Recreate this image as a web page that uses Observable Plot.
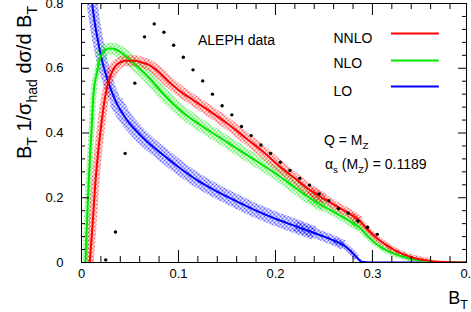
<!DOCTYPE html>
<html><head><meta charset="utf-8">
<script src="https://cdn.jsdelivr.net/npm/d3@7"></script>
<script src="https://cdn.jsdelivr.net/npm/@observablehq/plot@0.6"></script>
<style>body{margin:0;background:#fff} svg{display:block}</style>
</head><body><div id="chart"></div>
<script>
// ---- data ----
const alephX = [0.025,0.035,0.045,0.055,0.065,0.075,0.085,0.095,0.105,0.115,0.125,0.135,0.145,0.155,0.165,0.175,0.185,0.195,0.205,0.215,0.225,0.235,0.245,0.255,0.265,0.275,0.285,0.295,0.305];
const alephY = [0.008,0.094,0.337,0.554,0.697,0.737,0.711,0.671,0.634,0.595,0.561,0.520,0.484,0.456,0.420,0.392,0.363,0.337,0.310,0.284,0.260,0.239,0.212,0.191,0.167,0.153,0.128,0.109,0.087];

const loX = [0.0095,0.0107,0.013,0.016,0.021,0.028,0.035,0.045,0.057,0.066,0.083,0.10,0.12,0.14,0.16,0.18,0.20,0.22,0.24,0.26,0.27,0.277,0.284,0.289,0.30,0.40];
const loY = [0.86,0.81,0.755,0.70,0.626,0.554,0.50,0.448,0.405,0.378,0.335,0.295,0.253,0.219,0.189,0.16,0.135,0.113,0.091,0.068,0.054,0.037,0.015,0.002,0,0];

const nloX = [0.0040,0.0055,0.0072,0.009,0.0107,0.0124,0.0158,0.0192,0.023,0.027,0.031,0.036,0.0416,0.0553,0.069,0.083,0.10,0.115,0.13,0.15,0.17,0.19,0.205,0.22,0.235,0.25,0.265,0.278,0.287,0.295,0.305,0.315,0.329,0.343,0.36,0.38,0.40];
const nloY = [0,0.11,0.234,0.34,0.43,0.52,0.585,0.632,0.652,0.66,0.661,0.657,0.647,0.611,0.573,0.525,0.475,0.44,0.41,0.372,0.333,0.295,0.265,0.232,0.2,0.173,0.148,0.125,0.107,0.082,0.055,0.037,0.02,0.009,0.003,0.0005,0];

const nnloX = [0.0085,0.011,0.014,0.0175,0.021,0.0244,0.0296,0.0347,0.040,0.045,0.0553,0.062,0.069,0.079,0.0897,0.10,0.115,0.13,0.15,0.17,0.19,0.205,0.22,0.235,0.25,0.265,0.278,0.287,0.295,0.305,0.315,0.329,0.343,0.36,0.38,0.40];
const nnloY = [0,0.10,0.234,0.35,0.44,0.513,0.575,0.606,0.618,0.623,0.623,0.618,0.611,0.59,0.559,0.533,0.502,0.472,0.43,0.383,0.335,0.295,0.26,0.225,0.197,0.17,0.148,0.128,0.102,0.074,0.052,0.029,0.014,0.005,0.001,0];

const xMajor = [0,0.1,0.2,0.3];
const xMinor = [0.02,0.04,0.06,0.08,0.12,0.14,0.16,0.18,0.22,0.24,0.26,0.28,0.32,0.34,0.36,0.38];
const xLabels = [0,0.1,0.2,0.3,0.4];
const xLabelText = ["0","0.1","0.2","0.3","0.4"];
const yMajor = [0,0.2,0.4,0.6,0.8];
const yMinor = [0.04,0.08,0.12,0.16,0.24,0.28,0.32,0.36,0.44,0.48,0.52,0.56,0.64,0.68,0.72,0.76];
const yLabelText = ["0","0.2","0.4","0.6","0.8"];

// ---- styles ----
const RED = "#ff0000", GREEN = "#00e600", BLUE = "#0000ff";
const W = 471, H = 312, mL = 81, mR = 5, mT = 3, mB = 50;
const pw = W - mL - mR, ph = H - mT - mB;
const FONT = "'Liberation Sans', Arial, Helvetica, sans-serif";

const pts = (xs, ys) => xs.map((x, i) => ({x, y: ys[i]}));
const seg = (xs, ys, a, b) => pts(xs, ys).filter(d => d.x >= a && d.x <= b);

// band segments [from, to, strokeWidth]
const bandSpec = [
  {xs: loX, ys: loY, pat: "url(#hatchBlue)", segs: [[0.0095,0.035,11],[0.035,0.24,14],[0.22,0.27,10],[0.26,0.284,6],[0.277,0.289,3]]},
  {xs: nloX, ys: nloY, pat: "url(#hatchGreen)", segs: [[0.004,0.0192,6],[0.0192,0.25,12],[0.235,0.287,9],[0.278,0.343,6]]},
  {xs: nnloX, ys: nnloY, pat: "url(#hatchRed)", segs: [[0.0085,0.0296,8],[0.0296,0.25,11],[0.235,0.287,9],[0.278,0.36,6]]}
];
const bandMarks = [];
for (const b of bandSpec) for (const [a, c, w] of b.segs)
  bandMarks.push(Plot.line(seg(b.xs, b.ys, a, c), {x: "x", y: "y", stroke: b.pat, strokeWidth: w, curve: "monotone-x", clip: true, strokeLinecap: "butt"}));

function defsMark() {
  const defs = d3.create("svg:defs");
  for (const [id, col] of [["hatchBlue", BLUE], ["hatchGreen", GREEN], ["hatchRed", RED]]) {
    const p = defs.append("pattern").attr("id", id).attr("patternUnits", "userSpaceOnUse").attr("width", 4).attr("height", 4);
    p.append("path").attr("d", "M0,0L4,4M4,0L0,4").attr("stroke", col).attr("stroke-width", 0.6).attr("fill", "none");
  }
  return defs.node();
}

function addRich(text, parts, size) {
  let shift = 0;
  for (const [t, sub] of parts) {
    const ts = text.append("tspan").text(t);
    const target = sub ? size * 0.3 : 0;
    if (target !== shift) { ts.attr("dy", target - shift); shift = target; }
    if (sub) ts.attr("font-size", size * 0.7);
  }
}

function textMark(index, scales) {
  const g = d3.create("svg:g").attr("font-family", FONT).attr("fill", "black").attr("text-anchor", "start");
  const X = scales.x, Y = scales.y;
  // annotations in data coordinates
  const t1 = g.append("text").attr("x", X(0.1206)).attr("y", Y(0.670)).attr("font-size", 14);
  addRich(t1, [["ALEPH data"]], 14);
  const t2 = g.append("text").attr("x", X(0.2505)).attr("y", Y(0.3614)).attr("font-size", 14);
  addRich(t2, [["Q = M"], ["Z", 1]], 14);
  const t3 = g.append("text").attr("x", X(0.2515)).attr("y", Y(0.2873)).attr("font-size", 14);
  addRich(t3, [["α"], ["s", 1], [" (M"], ["Z", 1], [") = 0.1189"]], 14);
  // axis titles
  const yt = g.append("text").attr("text-anchor", "end").attr("font-size", 20)
    .attr("transform", `translate(31,6) rotate(-90)`);
  addRich(yt, [["B"], ["T", 1], [" 1/σ"], ["had", 1], [" dσ/d B"], ["T", 1]], 20);
  const xt = g.append("text").attr("text-anchor", "end").attr("font-size", 18)
    .attr("x", W - 3).attr("y", H - 8);
  addRich(xt, [["B"], ["T", 1]], 18);
  return g.node();
}

const legend = [
  {name: "NNLO", color: RED, y: 0.7073, ty: 0.6888},
  {name: "NLO", color: GREEN, y: 0.624, ty: 0.6085},
  {name: "LO", color: BLUE, y: 0.5436, ty: 0.525}
];

const plot = Plot.plot({
  width: W, height: H, marginLeft: mL, marginRight: mR, marginTop: mT, marginBottom: mB,
  x: {domain: [0, 0.397], axis: null},
  y: {domain: [0, 0.8], axis: null},
  style: {fontFamily: FONT, background: "white", color: "black"},
  marks: [
    defsMark,
    ...bandMarks,
    Plot.line(pts(loX, loY), {x: "x", y: "y", stroke: BLUE, strokeWidth: 2, curve: "monotone-x", clip: true}),
    Plot.line(pts(nloX, nloY), {x: "x", y: "y", stroke: GREEN, strokeWidth: 2, curve: "monotone-x", clip: true}),
    Plot.line(pts(nnloX, nnloY), {x: "x", y: "y", stroke: RED, strokeWidth: 2, curve: "monotone-x", clip: true}),
    Plot.dot(pts(alephX, alephY), {x: "x", y: "y", r: 1.7, fill: "black", stroke: null}),
    // legend
    Plot.ruleY(legend, {y: "y", x1: 0.3196, x2: 0.369, stroke: "color", strokeWidth: 2}),
    Plot.text(legend, {x: 0.2598, y: "ty", text: "name", textAnchor: "start", lineAnchor: "bottom", fontSize: 14, dy: 3}),
    // frame and inward ticks
    Plot.frame({stroke: "black", strokeWidth: 1}),
    Plot.tickX(xMajor, {x: d => d, insetTop: ph - 12, stroke: "black"}),
    Plot.tickX(xMinor, {x: d => d, insetTop: ph - 6, stroke: "black"}),
    Plot.tickX(xMajor, {x: d => d, insetBottom: ph - 12, stroke: "black"}),
    Plot.tickX(xMinor, {x: d => d, insetBottom: ph - 6, stroke: "black"}),
    Plot.tickY(yMajor, {y: d => d, insetRight: pw - 8, stroke: "black"}),
    Plot.tickY(yMinor, {y: d => d, insetRight: pw - 4, stroke: "black"}),
    Plot.tickY(yMajor, {y: d => d, insetLeft: pw - 8, stroke: "black"}),
    Plot.tickY(yMinor, {y: d => d, insetLeft: pw - 4, stroke: "black"}),
    // tick labels
    Plot.text(xLabels, {x: d => d, frameAnchor: "bottom", dy: 15, text: (d, i) => xLabelText[i], fontSize: 13}),
    Plot.text(yMajor, {y: d => d, frameAnchor: "left", dx: -18, textAnchor: "end", text: (d, i) => yLabelText[i], fontSize: 13}),
    textMark
  ]
});
document.getElementById("chart").appendChild(plot);
</script>
</body></html>
